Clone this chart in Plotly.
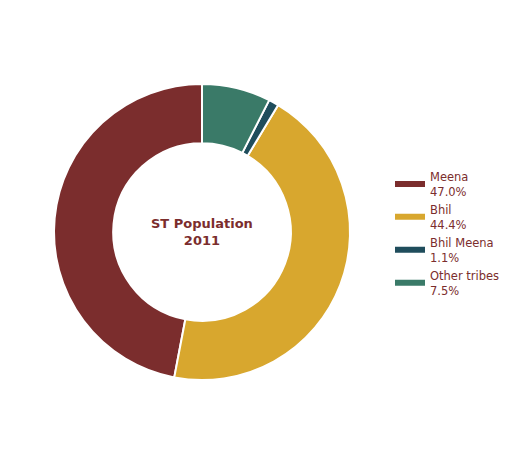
import plotly.graph_objects as go

labels = ["Meena", "Bhil", "Bhil Meena", "Other tribes"]
values = [47.0, 44.4, 1.1, 7.5]
colors = ["#7B2D2D", "#D8A72E", "#1F4D5C", "#3A7A68"]

legend_text = [f"{l}\u00a0<br>{v:.1f}%" for l, v in zip(labels, values)]
first_share_deg = 360 * values[0] / sum(values)

fig = go.Figure()
fig.add_trace(go.Pie(
    labels=legend_text,
    values=values,
    hole=0.6,
    sort=False,
    direction="counterclockwise",
    rotation=-first_share_deg,
    marker=dict(colors=colors, line=dict(color="white", width=2)),
    textinfo="none",
    domain=dict(x=[0.091, 0.685], y=[0.1696, 0.8304]),
    showlegend=False,
))

# legend entries (wide bar symbols)
for t, c in zip(legend_text, colors):
    fig.add_trace(go.Scatter(x=[None], y=[None], mode="lines", name=t,
                             line=dict(color=c, width=6), hoverinfo="skip"))

fig.update_layout(
    width=500, height=448,
    margin=dict(l=0, r=0, t=0, b=0, autoexpand=False),
    paper_bgcolor="white", plot_bgcolor="rgba(0,0,0,0)",
    font=dict(family="DejaVu Sans", color="#7B2D2D"),
    xaxis=dict(visible=False), yaxis=dict(visible=False),
    legend=dict(x=0.764, y=0.4967, yanchor="middle", xanchor="left",
                font=dict(size=11.5, color="#7B2D2D")),
    annotations=[dict(text="<b>ST Population<br>2011</b>", x=0.388, y=0.5,
                      xref="paper", yref="paper", showarrow=False,
                      font=dict(size=13, color="#7B2D2D", family="DejaVu Sans"))],
)

fig.write_html("out.html")
